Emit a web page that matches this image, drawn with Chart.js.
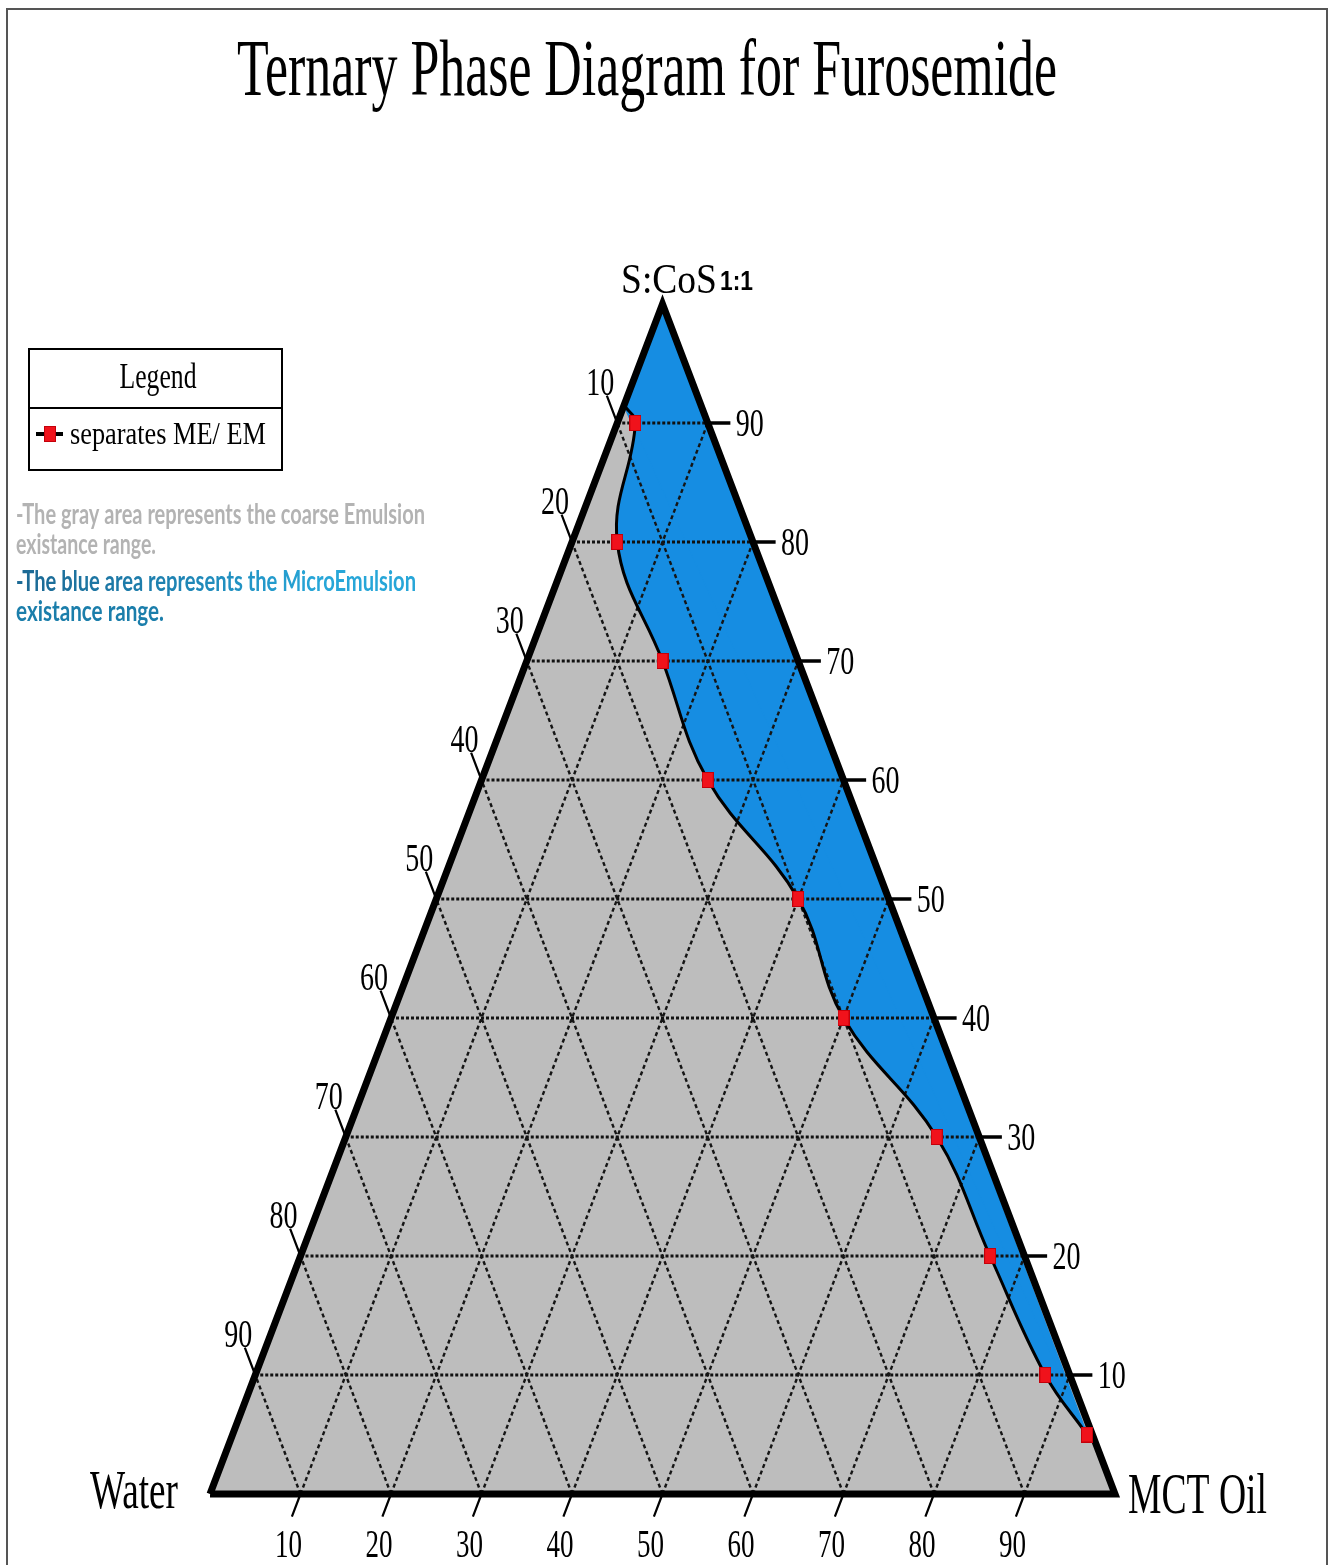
<!DOCTYPE html>
<html>
<head>
<meta charset="utf-8">
<title>Ternary Phase Diagram for Furosemide</title>
<script src="https://cdn.jsdelivr.net/npm/chart.js@4.4.1/dist/chart.umd.min.js"></script>
<style>
  html, body { margin: 0; padding: 0; background: #fff; }
  canvas { display: block; }
</style>
</head>
<body>
<canvas id="ternary" width="1329" height="1565"></canvas>
<script>
// ME / EM boundary points (% w/w)
const sCos = [90, 80, 70, 60, 50, 40, 30, 20, 10, 5];
const oil = [2, 5, 15, 25, 40, 50, 65.3, 76.2, 87.3, 94.4];
// boundary leaves the Water / S:CoS edge here
const startSCos = 91.5;
const startOil = 0;
const tickValues = [10, 20, 30, 40, 50, 60, 70, 80, 90];

const GRAY = "#bdbdbd";
const BLUE = "#168de2";

// ternary -> cartesian: x runs Water (0) to MCT Oil (100), y is S:CoS
function pt(o, s) {
  return { x: o + s / 2, y: s };
}
function gap() {
  return { x: 0, y: null };
}

const boundary = sCos.map((s, i) => pt(oil[i], s));
const curve = [pt(startOil, startSCos)].concat(boundary);
const corners = [pt(0, 0), pt(100, 0), pt(0, 100)];

const hLines = [];
const diagLines = [];
const rightTicks = [];
const otherTicks = [];
tickValues.forEach((v) => {
  hLines.push(pt(0, v), pt(100 - v, v), gap());
  diagLines.push(pt(v, 0), pt(v, 100 - v), gap()); // constant oil
  diagLines.push(pt(v, 0), pt(0, v), gap()); // constant water
  const r = pt(100 - v, v);
  rightTicks.push(r, { x: r.x + 2.5, y: v }, gap());
  otherTicks.push(pt(0, v), pt(-2.3, v + 2.3), gap());
  otherTicks.push(pt(v, 0), pt(v, -1.9), gap());
});

// marker image: the red squares are taller than wide in the source
const marker = document.createElement("canvas");
marker.width = 12;
marker.height = 16;
(function () {
  const m = marker.getContext("2d");
  m.fillStyle = "#f0121b";
  m.fillRect(0, 0, 12, 16);
  m.strokeStyle = "#c4000a";
  m.lineWidth = 1;
  m.strokeRect(0.5, 0.5, 11, 15);
})();

function lineSet(data, extra) {
  return Object.assign(
    {
      data: data,
      pointRadius: 0,
      borderWidth: 0,
      fill: false,
      tension: 0,
      clip: false,
    },
    extra
  );
}

function drawText(ctx, text, x, y, font, width, align, color) {
  ctx.save();
  ctx.font = font;
  ctx.fillStyle = color || "#000";
  ctx.textBaseline = "alphabetic";
  ctx.textAlign = align || "left";
  const w = ctx.measureText(text).width;
  ctx.translate(x, y);
  ctx.scale(width ? width / w : 1, 1);
  ctx.fillText(text, 0, 0);
  ctx.restore();
}

const SERIF = '"Liberation Serif", "Times New Roman", serif';

const textPlugin = {
  id: "ternaryText",
  afterDraw(chart) {
    const ctx = chart.ctx;
    const sx = chart.scales.x;
    const sy = chart.scales.y;
    const px = (p) => ({ x: sx.getPixelForValue(p.x), y: sy.getPixelForValue(p.y) });

    // page frame
    ctx.save();
    ctx.strokeStyle = "#555";
    ctx.lineWidth = 2;
    ctx.strokeRect(7, 9, 1320, 1600);
    ctx.restore();

    drawText(ctx, "Ternary Phase Diagram for Furosemide", 647, 95, "80px " + SERIF, 820, "center");

    // corner labels
    drawText(ctx, "S:CoS", 621, 293, "42px " + SERIF, 96);
    drawText(ctx, "1:1", 720, 290, "bold 27px 'Liberation Sans', Arial, sans-serif", 33);
    drawText(ctx, "Water", 90, 1508, "54px " + SERIF, 88);
    drawText(ctx, "MCT Oil", 1128, 1513, "57px " + SERIF, 139);

    // tick labels
    tickValues.forEach((v) => {
      const r = px(pt(100 - v, v));
      drawText(ctx, String(v), r.x + 28, r.y + 13, "40px " + SERIF, 28);
      const l = px(pt(0, v));
      drawText(ctx, String(100 - v), l.x - 17, l.y - 28, "40px " + SERIF, 28, "center");
      const b = px(pt(v, 0));
      drawText(ctx, String(v), b.x - 12, b.y + 63, "40px " + SERIF, 27, "center");
    });

    // legend box
    ctx.save();
    ctx.strokeStyle = "#000";
    ctx.lineWidth = 2;
    ctx.strokeRect(29, 349, 253, 121);
    ctx.beginPath();
    ctx.moveTo(29, 408);
    ctx.lineTo(282, 408);
    ctx.stroke();
    ctx.lineWidth = 4;
    ctx.beginPath();
    ctx.moveTo(36, 434);
    ctx.lineTo(63, 434);
    ctx.stroke();
    ctx.drawImage(marker, 44, 426, 12, 16);
    ctx.restore();
    drawText(ctx, "Legend", 158, 388, "35px " + SERIF, 77, "center");
    drawText(ctx, "separates ME/ EM", 70, 444, "32px " + SERIF, 196);

    // notes
    const NOTE = "bold 28px Lato, 'Open Sans', sans-serif";
    drawText(ctx, "-The gray area represents the coarse Emulsion", 16, 524, NOTE, 409, "left", "#b3b3b3");
    drawText(ctx, "existance range.", 16, 554, NOTE, 140, "left", "#b3b3b3");
    const g = ctx.createLinearGradient(16, 0, 420, 0);
    g.addColorStop(0, "#1c6a95");
    g.addColorStop(0.55, "#1f86b6");
    g.addColorStop(1, "#27a6d8");
    drawText(ctx, "-The blue area represents the MicroEmulsion", 16, 591, NOTE, 400, "left", g);
    drawText(ctx, "existance range.", 16, 621, NOTE, 148, "left", "#1b7eab");
  },
};

new Chart(document.getElementById("ternary"), {
  type: "line",
  data: {
    datasets: [
      // coarse emulsion area (whole triangle)
      lineSet(corners, { backgroundColor: GRAY, fill: "shape", order: 10 }),
      // microemulsion area: wedge towards the apex + the curved part
      lineSet([pt(0, 100), curve[curve.length - 1], curve[0]], {
        backgroundColor: BLUE,
        borderColor: BLUE,
        borderWidth: 2,
        fill: "shape",
        order: 9,
      }),
      lineSet(curve, { backgroundColor: BLUE, fill: "shape", tension: 0.4, order: 8 }),
      // grid
      lineSet(hLines, { borderColor: "#111", borderWidth: 3, borderDash: [3, 2], order: 7 }),
      lineSet(diagLines, { borderColor: "#151515", borderWidth: 2.4, borderDash: [4, 3], order: 6 }),
      // ticks
      lineSet(rightTicks, { borderColor: "#000", borderWidth: 3.5, order: 5 }),
      lineSet(otherTicks, { borderColor: "#000", borderWidth: 2.2, order: 5 }),
      // ME / EM boundary
      lineSet(curve, { label: "separates ME/ EM", borderColor: "#000", borderWidth: 3, tension: 0.4, order: 4 }),
      // triangle outline
      lineSet(corners.concat([corners[0]]), {
        borderColor: "#000",
        borderWidth: 7,
        borderJoinStyle: "miter",
        order: 2,
      }),
      {
        label: "separates ME/ EM",
        data: boundary,
        showLine: false,
        pointStyle: marker,
        pointRadius: 6,
        order: 0,
        clip: false,
      },
    ],
  },
  options: {
    responsive: false,
    animation: false,
    spanGaps: false,
    layout: { padding: { left: 210, right: 214, top: 304, bottom: 71 } },
    scales: {
      x: { type: "linear", min: 0, max: 100, display: false },
      y: { type: "linear", min: 0, max: 100, display: false },
    },
    plugins: {
      legend: { display: false },
      title: { display: false },
      tooltip: { enabled: false },
    },
  },
  plugins: [textPlugin],
});
</script>
</body>
</html>
